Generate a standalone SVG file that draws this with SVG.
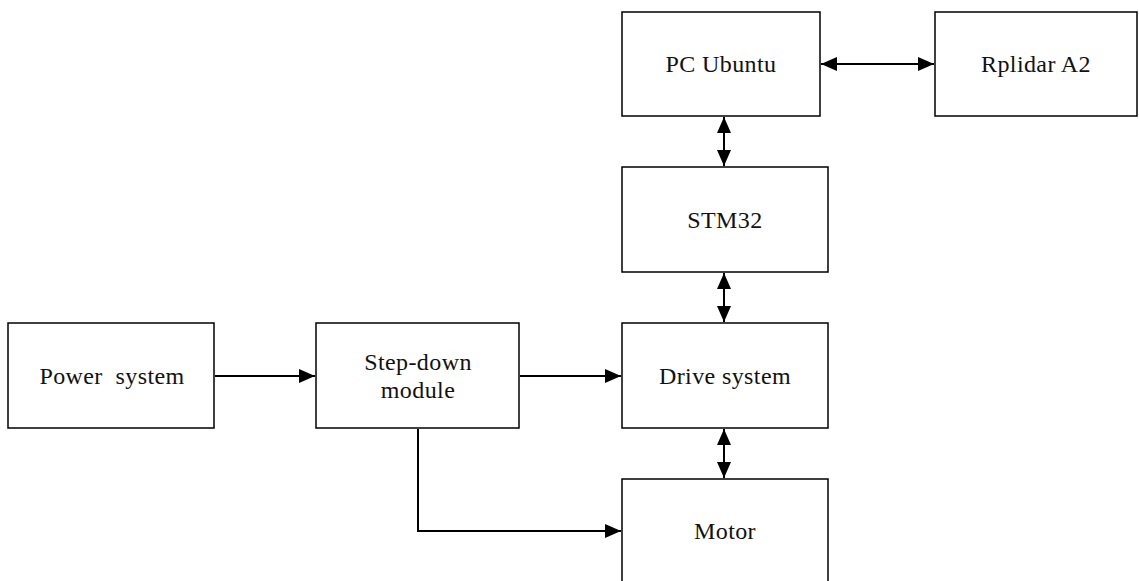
<svg xmlns="http://www.w3.org/2000/svg" width="1139" height="581" viewBox="0 0 1139 581">
<style>
.box{fill:#fff;stroke:#000;stroke-width:1.5}
.lbl{font-family:"Liberation Serif","DejaVu Serif",serif;font-size:24px;letter-spacing:0.4px;fill:#111;text-anchor:middle;dominant-baseline:central}
.con{fill:none;stroke:#000;stroke-width:2}
</style>
<defs>
<marker id="ah" viewBox="0 0 16 14" refX="16" refY="7" markerWidth="16" markerHeight="14" markerUnits="userSpaceOnUse" orient="auto-start-reverse">
<path d="M0,0 L16,7 L0,14 Z" fill="#000"/>
</marker>
</defs>
<g id="pc"><rect class="box" x="622" y="12" width="198" height="104"/><text class="lbl" x="721" y="64">PC Ubuntu</text></g>
<g id="rplidar"><rect class="box" x="935" y="12" width="202" height="104"/><text class="lbl" x="1036" y="64">Rplidar A2</text></g>
<g id="stm32"><rect class="box" x="622" y="167" width="206" height="105"/><text class="lbl" x="725" y="220">STM32</text></g>
<g id="power"><rect class="box" x="8" y="323" width="206" height="105"/><text class="lbl" x="112" y="376" xml:space="preserve">Power  system</text></g>
<g id="stepdown"><rect class="box" x="316" y="323" width="203" height="105"/><text class="lbl" x="418" y="362">Step-down</text><text class="lbl" x="418" y="390">module</text></g>
<g id="drive"><rect class="box" x="622" y="323" width="206" height="105"/><text class="lbl" x="725" y="376">Drive system</text></g>
<g id="motor"><rect class="box" x="622" y="479" width="206" height="110"/><text class="lbl" x="725" y="531">Motor</text></g>
<g id="connectors">
<line class="con" x1="821" y1="64" x2="934" y2="64" marker-start="url(#ah)" marker-end="url(#ah)"/>
<line class="con" x1="724" y1="117" x2="724" y2="166" marker-start="url(#ah)" marker-end="url(#ah)"/>
<line class="con" x1="724" y1="273" x2="724" y2="322" marker-start="url(#ah)" marker-end="url(#ah)"/>
<line class="con" x1="724" y1="429" x2="724" y2="478" marker-start="url(#ah)" marker-end="url(#ah)"/>
<line class="con" x1="215" y1="376" x2="315" y2="376" marker-end="url(#ah)"/>
<line class="con" x1="520" y1="376" x2="621" y2="376" marker-end="url(#ah)"/>
<polyline class="con" points="418,429 418,531 621,531" marker-end="url(#ah)"/>
</g>
</svg>
